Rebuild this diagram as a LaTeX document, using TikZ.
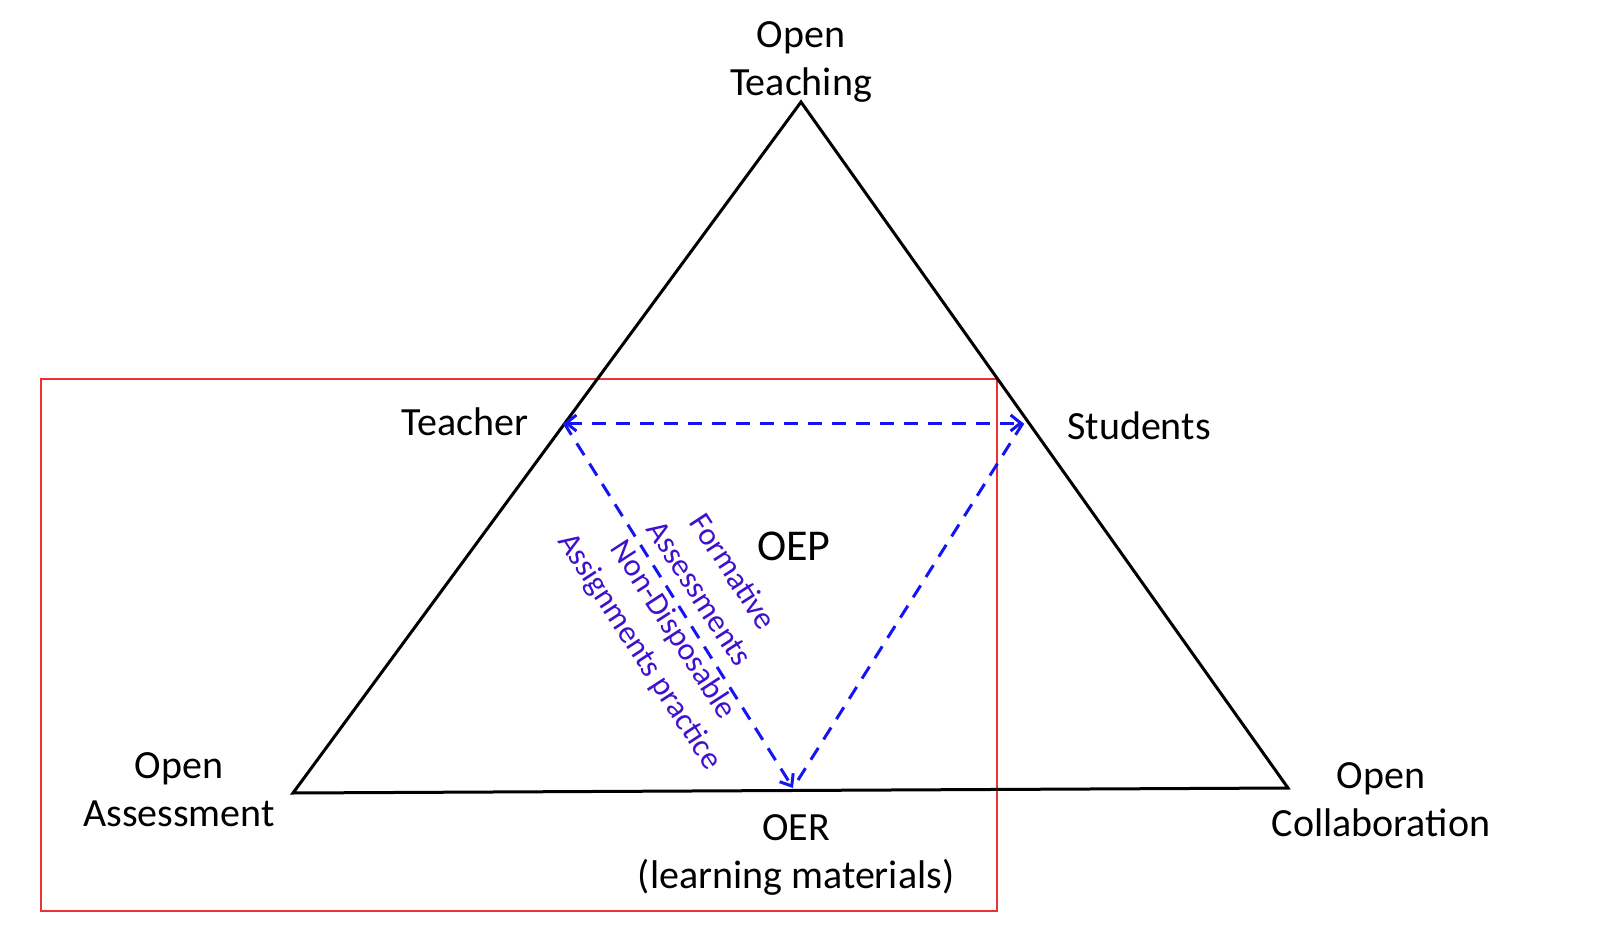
\documentclass[tikz,border=0pt]{standalone}
\usepackage{fontspec}
\setmainfont{Carlito}
\usetikzlibrary{arrows.meta}
\definecolor{boxred}{RGB}{232,52,52}
\definecolor{dashblue}{RGB}{20,20,245}
\definecolor{textblue}{RGB}{64,16,204}
\tikzset{
  lbl/.style={inner sep=0pt, align=center, font=\fontsize{20}{24}\selectfont, text=black},
  bluelbl/.style={inner sep=0pt, align=center, font=\fontsize{16}{20}\selectfont, text=textblue, rotate=-57},
  tri/.style={line width=1.5pt, line join=miter, black},
  dtri/.style={line width=1.5pt, dashed, dash pattern=on 7pt off 5pt, dashblue},
  tip/.style={-{Straight Barb[length=5pt,width=8pt]}},
}
\begin{document}
\begin{tikzpicture}[x=0.5pt,y=-0.5pt]
\useasboundingbox (0,0) rectangle (1600,930);
% red frame
\draw[boxred, line width=1pt] (41,379) rectangle (997,911);
% outer triangle
\coordinate (A) at (801,102);
\coordinate (L) at (293,793);
\coordinate (R) at (1288,788);
\draw[tri] (A) -- (L) -- (R) -- cycle;
% inner dashed triangle
\coordinate (T) at (564,423);
\coordinate (S) at (1023,423);
\coordinate (B) at (793,788);
\draw[dtri, {Straight Barb[length=5pt,width=8pt]}-{Straight Barb[length=5pt,width=8pt]}] (T) -- (S);
\draw[dtri, tip] (T) -- (B);
\draw[dtri] (S) -- (B);
% labels
\node[lbl] (ot) at (801,62) {Open\\Teaching};
\node[lbl] (oa) at (179,790) {Open\\Assessment};
\node[lbl] (oc) at (1381,800) {Open\\Collaboration};
\node[lbl] (teacher) at (465,422) {Teacher};
\node[lbl] (students) at (1139,426) {Students};
\node[lbl, font=\fontsize{22}{26}\selectfont] (oep) at (794,546) {OEP};
\node[lbl] (oer) at (796,855) {OER\\(learning materials)};
\node[bluelbl] (fa) at (717,582) {Formative\\Assessments};
\node[bluelbl] (nd) at (656,641) {Non-Disposable\\Assignments practice};
\end{tikzpicture}
\end{document}
